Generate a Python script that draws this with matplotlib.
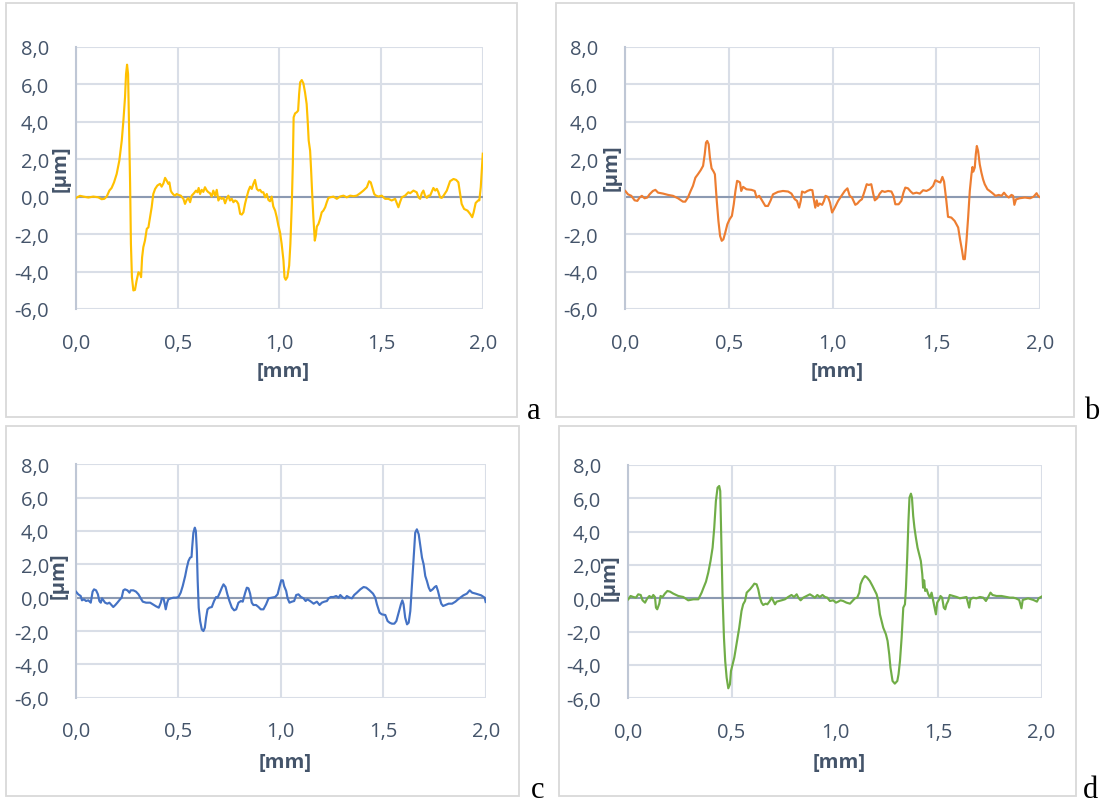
import matplotlib
matplotlib.use("Agg")
import matplotlib.pyplot as plt
from matplotlib.patches import Rectangle
from matplotlib.ticker import FuncFormatter

# ---------------- data (x in mm, profile height in µm) ----------------
x_ticks = [0.0, 0.5, 1.0, 1.5, 2.0]
y_ticks = [-6, -4, -2, 0, 2, 4, 6, 8]
x_label = "[mm]"
y_label = "[µm]"
panel_letters = ["a", "b", "c", "d"]
series_colors = ["#FFC000", "#ED7D31", "#4472C4", "#70AD47"]

profile_a = [
    (0.000, -0.07), (0.020, 0.04), (0.036, 0.00), (0.061, -0.05), (0.085, 0.00), (0.110, -0.04),
    (0.126, -0.14), (0.139, -0.12), (0.151, 0.00), (0.164, 0.32), (0.175, 0.46), (0.187, 0.76),
    (0.200, 1.21), (0.213, 1.92), (0.225, 2.99), (0.233, 4.05), (0.241, 5.30), (0.246, 6.54),
    (0.251, 7.04), (0.256, 6.54), (0.261, 3.70), (0.266, 0.68), (0.270, -2.52), (0.275, -4.30),
    (0.282, -5.01), (0.290, -4.98), (0.298, -4.48), (0.307, -4.04), (0.315, -4.12), (0.320, -4.30),
    (0.325, -3.24), (0.331, -2.70), (0.339, -2.35), (0.348, -1.72), (0.356, -1.64), (0.364, -1.10),
    (0.372, -0.57), (0.380, 0.14), (0.389, 0.41), (0.400, 0.59), (0.413, 0.68), (0.421, 0.53),
    (0.430, 0.71), (0.438, 1.00), (0.446, 0.85), (0.454, 0.68), (0.459, 0.76), (0.466, 0.32),
    (0.470, 0.23), (0.479, 0.11), (0.487, 0.05), (0.495, 0.14), (0.503, 0.09), (0.515, 0.05),
    (0.528, -0.12), (0.536, -0.39), (0.544, -0.18), (0.552, -0.07), (0.561, -0.30), (0.569, 0.05),
    (0.580, 0.18), (0.590, 0.32), (0.597, 0.23), (0.603, 0.46), (0.610, 0.14), (0.618, 0.36),
    (0.626, 0.25), (0.634, 0.50), (0.643, 0.32), (0.651, 0.23), (0.659, 0.18), (0.667, 0.00),
    (0.675, 0.32), (0.684, 0.05), (0.692, 0.36), (0.700, -0.21), (0.708, -0.04), (0.716, -0.12),
    (0.725, -0.07), (0.733, -0.36), (0.741, -0.12), (0.749, 0.05), (0.757, -0.21), (0.766, -0.12),
    (0.774, -0.30), (0.782, -0.21), (0.790, -0.25), (0.798, -0.39), (0.807, -0.92), (0.815, -0.96),
    (0.823, -0.84), (0.831, -0.39), (0.839, -0.04), (0.848, 0.32), (0.856, 0.53), (0.864, 0.41),
    (0.872, 0.68), (0.880, 0.89), (0.889, 0.41), (0.897, 0.32), (0.905, 0.36), (0.913, 0.23),
    (0.921, 0.23), (0.930, -0.04), (0.938, 0.14), (0.946, -0.18), (0.954, -0.25), (0.962, 0.00),
    (0.970, -0.53), (0.979, -0.75), (0.987, -1.10), (0.995, -1.55), (1.003, -1.90), (1.011, -2.52),
    (1.020, -3.41), (1.025, -4.30), (1.031, -4.44), (1.039, -4.30), (1.048, -3.68), (1.054, -2.52),
    (1.061, -0.39), (1.066, 1.74), (1.070, 4.23), (1.077, 4.44), (1.085, 4.50), (1.092, 4.59),
    (1.097, 5.48), (1.102, 6.10), (1.110, 6.22), (1.118, 6.04), (1.126, 5.56), (1.134, 4.94),
    (1.139, 4.05), (1.144, 2.99), (1.151, 2.45), (1.156, 1.39), (1.162, -0.04), (1.167, -1.10),
    (1.174, -2.35), (1.179, -2.08), (1.184, -1.60), (1.192, -1.46), (1.200, -1.19), (1.208, -0.84),
    (1.216, -0.75), (1.225, -0.57), (1.233, -0.30), (1.241, -0.07), (1.249, -0.04), (1.266, 0.00),
    (1.282, -0.12), (1.298, 0.00), (1.315, 0.05), (1.331, -0.04), (1.348, 0.05), (1.364, 0.02),
    (1.380, 0.05), (1.397, 0.18), (1.413, 0.32), (1.430, 0.50), (1.441, 0.82), (1.449, 0.76),
    (1.456, 0.50), (1.466, 0.14), (1.475, 0.05), (1.487, 0.00), (1.503, 0.05), (1.520, -0.12),
    (1.536, -0.12), (1.552, -0.21), (1.569, -0.12), (1.585, -0.57), (1.593, -0.30), (1.602, -0.04),
    (1.618, 0.05), (1.634, 0.23), (1.643, 0.18), (1.659, 0.32), (1.675, 0.23), (1.684, -0.04),
    (1.692, -0.12), (1.700, 0.18), (1.708, 0.32), (1.716, 0.05), (1.725, -0.07), (1.733, 0.05),
    (1.741, 0.05), (1.757, 0.46), (1.766, 0.32), (1.774, 0.41), (1.782, 0.23), (1.790, -0.04),
    (1.798, -0.07), (1.807, 0.05), (1.823, 0.32), (1.839, 0.82), (1.856, 0.94), (1.869, 0.89),
    (1.880, 0.76), (1.896, -0.39), (1.908, -0.66), (1.925, -0.75), (1.938, -0.93), (1.948, -1.10),
    (1.955, -0.84), (1.965, -0.34), (1.977, -0.21), (1.983, -0.20), (1.990, 0.50), (2.000, 2.29),
]

profile_b = [
    (0.000, 0.30), (0.013, 0.12), (0.029, 0.04), (0.045, -0.20), (0.058, -0.23), (0.069, -0.05),
    (0.080, 0.04), (0.093, -0.09), (0.106, -0.05), (0.117, 0.12), (0.133, 0.30), (0.145, 0.36),
    (0.158, 0.21), (0.182, 0.16), (0.206, 0.09), (0.230, 0.04), (0.254, -0.09), (0.278, -0.27),
    (0.289, -0.27), (0.302, -0.05), (0.315, 0.30), (0.326, 0.57), (0.338, 1.01), (0.350, 1.19),
    (0.363, 1.40), (0.375, 1.64), (0.383, 2.26), (0.389, 2.88), (0.395, 2.97), (0.402, 2.79),
    (0.408, 2.08), (0.416, 1.51), (0.426, 1.33), (0.432, 1.19), (0.441, -0.23), (0.449, -1.30),
    (0.457, -2.10), (0.465, -2.36), (0.473, -2.28), (0.482, -1.92), (0.492, -1.48), (0.503, -1.21),
    (0.514, -1.03), (0.523, -0.41), (0.531, 0.30), (0.539, 0.84), (0.547, 0.80), (0.553, 0.75),
    (0.559, 0.30), (0.568, 0.52), (0.584, 0.39), (0.608, 0.36), (0.624, 0.30), (0.633, -0.05),
    (0.646, 0.04), (0.659, -0.20), (0.675, -0.50), (0.688, -0.50), (0.701, -0.20), (0.712, 0.12),
    (0.736, 0.25), (0.760, 0.30), (0.785, 0.27), (0.801, 0.16), (0.817, -0.14), (0.828, -0.23),
    (0.838, -0.59), (0.846, -0.23), (0.852, 0.27), (0.865, 0.21), (0.878, 0.30), (0.892, 0.36),
    (0.902, 0.34), (0.908, -0.09), (0.916, -0.59), (0.923, -0.20), (0.929, -0.50), (0.937, -0.37),
    (0.949, -0.44), (0.958, -0.23), (0.965, 0.04), (0.977, -0.02), (0.987, -0.32), (0.997, -0.85),
    (1.010, -0.59), (1.026, -0.23), (1.042, 0.04), (1.058, 0.30), (1.071, 0.44), (1.082, 0.04),
    (1.093, -0.05), (1.109, -0.44), (1.119, -0.37), (1.130, -0.23), (1.141, -0.14), (1.154, 0.30),
    (1.164, 0.66), (1.174, 0.62), (1.186, 0.66), (1.196, 0.12), (1.203, -0.20), (1.215, -0.09),
    (1.227, 0.16), (1.238, 0.30), (1.251, 0.25), (1.267, 0.30), (1.283, 0.27), (1.293, 0.04),
    (1.302, -0.41), (1.318, -0.41), (1.331, -0.23), (1.341, 0.21), (1.350, 0.48), (1.363, 0.44),
    (1.376, 0.27), (1.387, 0.16), (1.404, 0.21), (1.420, 0.16), (1.436, 0.34), (1.452, 0.30),
    (1.468, 0.39), (1.484, 0.57), (1.495, 0.87), (1.508, 0.80), (1.519, 0.75), (1.529, 1.05),
    (1.537, 0.80), (1.548, -0.23), (1.556, -1.08), (1.572, -1.12), (1.588, -1.30), (1.605, -1.65),
    (1.614, -2.28), (1.624, -2.90), (1.630, -3.34), (1.637, -3.34), (1.645, -2.36), (1.653, -1.12),
    (1.661, 0.30), (1.669, 1.19), (1.674, 1.58), (1.678, 1.33), (1.685, 1.55), (1.690, 2.26),
    (1.695, 2.70), (1.701, 2.44), (1.709, 1.72), (1.717, 1.28), (1.725, 0.92), (1.733, 0.66),
    (1.746, 0.39), (1.757, 0.30), (1.773, 0.16), (1.785, 0.04), (1.801, 0.09), (1.814, 0.04),
    (1.826, 0.21), (1.838, 0.04), (1.849, -0.05), (1.862, 0.09), (1.870, 0.04), (1.876, -0.44),
    (1.884, -0.15), (1.901, -0.09), (1.927, -0.05), (1.952, -0.09), (1.969, 0.00), (1.983, 0.18),
    (1.990, 0.04), (2.000, -0.04),
]

profile_c = [
    (0.000, 0.36), (0.011, 0.20), (0.023, 0.10), (0.029, -0.16), (0.039, -0.10), (0.049, -0.20),
    (0.060, -0.16), (0.072, -0.30), (0.081, 0.36), (0.088, 0.50), (0.098, 0.44), (0.107, 0.20),
    (0.114, -0.20), (0.121, -0.30), (0.127, -0.04), (0.134, -0.16), (0.142, -0.30), (0.153, -0.36),
    (0.163, -0.30), (0.173, -0.44), (0.182, -0.56), (0.192, -0.44), (0.202, -0.30), (0.215, -0.10),
    (0.223, 0.00), (0.231, 0.44), (0.239, 0.50), (0.251, 0.44), (0.261, 0.30), (0.267, 0.44),
    (0.280, 0.44), (0.293, 0.36), (0.305, 0.20), (0.316, -0.04), (0.326, -0.24), (0.342, -0.30),
    (0.362, -0.30), (0.375, -0.40), (0.391, -0.52), (0.404, -0.60), (0.414, -0.30), (0.419, -0.04),
    (0.427, -0.04), (0.433, -0.36), (0.438, -0.70), (0.445, -0.30), (0.451, -0.10), (0.463, -0.04),
    (0.476, 0.00), (0.489, 0.00), (0.500, 0.04), (0.511, 0.30), (0.521, 0.70), (0.533, 1.30),
    (0.541, 1.80), (0.549, 2.20), (0.557, 2.40), (0.564, 2.44), (0.567, 3.00), (0.573, 3.90),
    (0.580, 4.20), (0.585, 4.00), (0.590, 2.80), (0.594, 1.00), (0.599, -0.60), (0.606, -1.40),
    (0.614, -1.90), (0.622, -2.00), (0.629, -1.80), (0.635, -1.20), (0.642, -0.70), (0.651, -0.60),
    (0.663, -0.56), (0.674, -0.20), (0.684, 0.04), (0.691, 0.00), (0.700, 0.24), (0.712, 0.60),
    (0.720, 0.80), (0.730, 0.64), (0.739, 0.20), (0.749, -0.20), (0.761, -0.60), (0.772, -0.76),
    (0.782, -0.70), (0.793, -0.30), (0.805, -0.20), (0.814, -0.24), (0.826, 0.30), (0.834, 0.60),
    (0.842, 0.56), (0.850, 0.24), (0.858, -0.30), (0.866, -0.44), (0.879, -0.44), (0.891, -0.56),
    (0.902, -0.70), (0.915, -0.70), (0.928, -0.40), (0.940, -0.04), (0.956, 0.00), (0.972, 0.04),
    (0.984, 0.20), (0.993, 0.64), (1.002, 1.04), (1.010, 1.04), (1.016, 0.70), (1.026, 0.40),
    (1.033, -0.04), (1.042, -0.30), (1.054, -0.24), (1.065, -0.20), (1.075, 0.16), (1.086, 0.20),
    (1.098, 0.04), (1.111, -0.04), (1.121, -0.20), (1.130, -0.10), (1.143, -0.20), (1.160, -0.36),
    (1.176, -0.24), (1.189, -0.44), (1.200, -0.30), (1.212, -0.24), (1.225, -0.20), (1.233, -0.04),
    (1.244, 0.04), (1.257, 0.04), (1.270, 0.10), (1.282, 0.00), (1.290, 0.16), (1.303, 0.00),
    (1.314, -0.04), (1.322, 0.10), (1.336, 0.00), (1.347, -0.04), (1.358, 0.16), (1.371, 0.30),
    (1.388, 0.50), (1.404, 0.64), (1.417, 0.60), (1.433, 0.44), (1.450, 0.24), (1.461, 0.00),
    (1.469, -0.40), (1.482, -0.90), (1.493, -1.00), (1.510, -1.04), (1.521, -1.40), (1.531, -1.50),
    (1.542, -1.56), (1.554, -1.56), (1.564, -1.40), (1.575, -0.90), (1.586, -0.40), (1.593, -0.16),
    (1.599, -0.40), (1.607, -1.20), (1.616, -1.60), (1.624, -1.50), (1.632, -0.80), (1.640, 0.80),
    (1.648, 2.40), (1.656, 3.90), (1.664, 4.10), (1.673, 3.80), (1.681, 3.10), (1.689, 2.40),
    (1.697, 2.00), (1.705, 1.30), (1.713, 1.00), (1.722, 0.60), (1.730, 0.40), (1.741, 0.50),
    (1.751, 0.64), (1.759, 0.70), (1.767, 0.40), (1.775, 0.00), (1.783, -0.36), (1.792, -0.50),
    (1.803, -0.44), (1.819, -0.36), (1.836, -0.36), (1.852, -0.24), (1.865, -0.10), (1.891, 0.14),
    (1.908, 0.24), (1.922, 0.44), (1.934, 0.30), (1.952, 0.24), (1.978, 0.14), (1.995, 0.00),
    (2.000, -0.26),
]

profile_d = [
    (0.000, -0.06), (0.011, 0.14), (0.024, 0.08), (0.037, 0.04), (0.048, 0.24), (0.060, 0.20),
    (0.069, -0.12), (0.081, -0.26), (0.092, 0.00), (0.102, 0.14), (0.113, 0.04), (0.121, 0.20),
    (0.129, 0.08), (0.134, -0.56), (0.140, -0.66), (0.150, -0.32), (0.156, 0.14), (0.166, 0.08),
    (0.177, 0.28), (0.189, 0.44), (0.202, 0.40), (0.218, 0.28), (0.242, 0.14), (0.266, 0.08),
    (0.290, -0.12), (0.315, -0.06), (0.339, -0.06), (0.347, 0.14), (0.355, 0.34), (0.363, 0.60),
    (0.376, 1.00), (0.387, 1.54), (0.398, 2.24), (0.408, 3.04), (0.416, 4.24), (0.424, 5.84),
    (0.432, 6.64), (0.440, 6.74), (0.445, 6.44), (0.450, 3.64), (0.456, 0.24), (0.463, -2.36),
    (0.469, -3.76), (0.476, -4.76), (0.484, -5.40), (0.492, -5.16), (0.497, -4.36), (0.505, -3.96),
    (0.513, -3.56), (0.521, -2.96), (0.529, -2.36), (0.537, -1.76), (0.548, -0.76), (0.556, -0.36),
    (0.565, -0.16), (0.573, 0.34), (0.581, 0.44), (0.589, 0.54), (0.602, 0.74), (0.610, 0.88),
    (0.621, 0.84), (0.629, 0.54), (0.637, 0.04), (0.645, -0.26), (0.653, -0.40), (0.665, -0.32),
    (0.673, -0.36), (0.685, -0.16), (0.694, 0.04), (0.702, -0.16), (0.710, -0.36), (0.718, -0.20),
    (0.731, -0.16), (0.742, -0.12), (0.758, -0.06), (0.774, 0.08), (0.790, 0.20), (0.802, 0.08),
    (0.815, 0.24), (0.823, 0.04), (0.834, -0.12), (0.847, 0.04), (0.863, 0.14), (0.879, 0.24),
    (0.892, 0.14), (0.903, 0.04), (0.915, 0.20), (0.927, 0.08), (0.940, 0.20), (0.952, 0.08),
    (0.963, 0.04), (0.976, -0.16), (0.992, -0.12), (1.005, -0.26), (1.016, -0.20), (1.027, -0.12),
    (1.040, -0.16), (1.056, -0.26), (1.073, -0.32), (1.085, -0.16), (1.097, 0.00), (1.108, 0.04),
    (1.118, 0.34), (1.124, 0.84), (1.134, 1.14), (1.145, 1.34), (1.156, 1.24), (1.169, 1.04),
    (1.182, 0.74), (1.194, 0.44), (1.202, 0.24), (1.210, -0.16), (1.218, -0.96), (1.226, -1.36),
    (1.234, -1.76), (1.247, -2.16), (1.255, -2.56), (1.263, -3.36), (1.269, -4.16), (1.279, -4.96),
    (1.290, -5.12), (1.302, -4.96), (1.308, -4.56), (1.315, -3.76), (1.323, -2.36), (1.331, -0.56),
    (1.339, -0.36), (1.344, 0.64), (1.350, 2.44), (1.356, 4.64), (1.361, 6.04), (1.368, 6.28),
    (1.373, 6.04), (1.379, 4.94), (1.385, 4.24), (1.392, 3.64), (1.400, 3.04), (1.408, 2.64),
    (1.416, 2.24), (1.423, 1.44), (1.427, 0.64), (1.432, 1.08), (1.437, 0.44), (1.444, 0.54),
    (1.452, 0.24), (1.460, 0.04), (1.468, 0.34), (1.476, -0.16), (1.482, -0.56), (1.489, -0.96),
    (1.495, -0.26), (1.505, -0.06), (1.511, 0.14), (1.519, 0.04), (1.527, -0.56), (1.534, -0.66),
    (1.540, -0.36), (1.548, -0.16), (1.556, 0.20), (1.573, 0.14), (1.589, 0.08), (1.605, 0.00),
    (1.621, 0.04), (1.637, 0.08), (1.650, -0.56), (1.656, -0.06), (1.669, 0.04), (1.685, 0.00),
    (1.702, 0.08), (1.718, 0.04), (1.731, -0.16), (1.742, 0.08), (1.753, 0.34), (1.763, 0.20),
    (1.782, 0.14), (1.806, 0.14), (1.831, 0.08), (1.847, 0.04), (1.863, 0.04), (1.876, 0.00),
    (1.892, -0.10), (1.903, -0.60), (1.909, -0.10), (1.935, 0.00), (1.961, -0.10), (1.978, -0.20),
    (1.986, 0.00), (2.000, 0.10),
]

profiles = [profile_a, profile_b, profile_c, profile_d]

# ---------------- styling / layout ----------------
plt.rcParams["font.family"] = ["Open Sans", "DejaVu Sans"]

W, H = 1106, 803
TXT = "#44546A"
GRID = "#D9DEE7"
ZERO = "#8C9AB2"
SPINE = "#BFC7D5"
FRAME = "#D9D9D9"
FS = 14.5


def fx(px):
    return px / W


def fy(py):
    return 1 - py / H


# plot areas in pixels: (left, top, right, bottom)
plot_px = [
    (76, 47.7, 482.8, 310.0),
    (625.3, 47.7, 1040.1, 310.0),
    (76, 465.3, 485.7, 698.7),
    (628.3, 466.0, 1041.5, 699.3),
]
frame_px = [
    (6, 4, 517, 418),
    (556, 4, 1074, 418),
    (6, 427, 519, 797),
    (559, 427, 1076, 797),
]
ylabel_px = [(61, 169), (612, 168), (59, 576), (609.5, 578)]
letter_px = [(534, 419), (1092, 419), (538, 798), (1091, 798)]

fmt = FuncFormatter(lambda v, p: f"{v:.1f}".replace(".", ","))

fig = plt.figure(figsize=(W / 100, H / 100), dpi=100)

for i, prof in enumerate(profiles):
    l, t, r, b = plot_px[i]
    fl, ft, fr, fb = frame_px[i]
    fig.add_artist(Rectangle((fx(fl), fy(fb)), fx(fr) - fx(fl), fy(ft) - fy(fb),
                             transform=fig.transFigure, fill=False, ec=FRAME, lw=1.3))
    ax = fig.add_axes([fx(l), fy(b), fx(r) - fx(l), fy(t) - fy(b)])
    ax.set_xlim(x_ticks[0], x_ticks[-1])
    ax.set_ylim(y_ticks[0], y_ticks[-1])
    ax.set_xticks(x_ticks)
    ax.set_yticks(y_ticks)
    ax.xaxis.set_major_formatter(fmt)
    ax.yaxis.set_major_formatter(fmt)
    ax.grid(True, color=GRID, lw=1.5)
    ax.set_axisbelow(True)
    for s in ["top", "right", "bottom"]:
        ax.spines[s].set_visible(False)
    ax.spines["left"].set_color(SPINE)
    ax.spines["left"].set_linewidth(1.5)
    ax.axhline(0, color=ZERO, lw=1.5, zorder=1.5)
    ax.tick_params(axis="both", length=0, labelsize=FS, labelcolor=TXT)
    ax.tick_params(axis="y", pad=19.5)
    ax.tick_params(axis="x", pad=17)
    xs = [p[0] for p in prof]
    ys = [p[1] for p in prof]
    ax.plot(xs, ys, color=series_colors[i], lw=1.55, zorder=3, solid_joinstyle="round")

    # x label
    lab_y = b + (62 if i < 2 else 64)
    fig.text(fx((l + r) / 2 + 4), fy(lab_y), x_label, ha="center", va="center",
             fontsize=FS, fontweight="bold", color=TXT)
    # y label
    yx, yy = ylabel_px[i]
    fig.text(fx(yx), fy(yy), y_label, ha="center", va="center", rotation=90,
             fontsize=FS, fontweight="bold", color=TXT)
    # panel letter
    lx, ly = letter_px[i]
    fig.text(fx(lx), fy(ly), panel_letters[i], ha="center", va="baseline",
             fontsize=22, family="Liberation Serif", color="black")

fig.savefig("out.png", dpi=100, facecolor="white")
